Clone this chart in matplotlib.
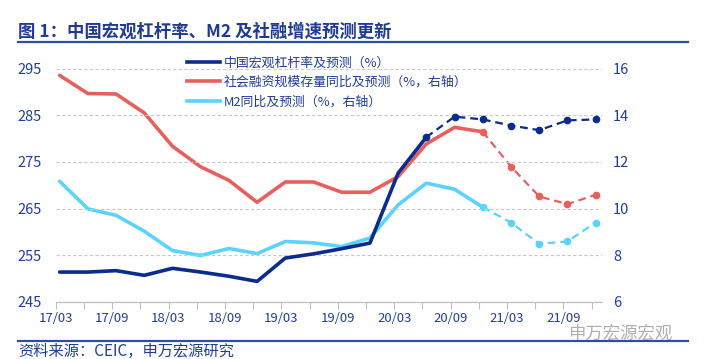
import matplotlib
matplotlib.use('Agg')
import matplotlib.pyplot as plt
from matplotlib.lines import Line2D

plt.rcParams['font.family'] = ['Noto Sans CJK SC', 'DejaVu Sans']

# quarterly data 17/03 .. 21/12
quarters = ['17/03', '17/06', '17/09', '17/12', '18/03', '18/06', '18/09', '18/12',
            '19/03', '19/06', '19/09', '19/12', '20/03', '20/06', '20/09', '20/12',
            '21/03', '21/06', '21/09', '21/12']
leverage = [251.4, 251.4, 251.7, 250.7, 252.2, 251.4, 250.5, 249.4,
            254.4, 255.3, 256.4, 257.6, 272.6, 280.3, 284.7, 284.1,
            282.8, 281.8, 283.9, 284.1]
tsf_yoy = [15.71, 14.93, 14.91, 14.10, 12.67, 11.79, 11.21, 10.27,
           11.14, 11.14, 10.70, 10.70, 11.37, 12.77, 13.48, 13.29,
           11.80, 10.52, 10.19, 10.59]
m2_yoy = [11.17, 9.99, 9.71, 9.03, 8.20, 7.99, 8.29, 8.07,
          8.59, 8.53, 8.37, 8.74, 10.16, 11.09, 10.83, 10.06,
          9.40, 8.49, 8.59, 9.40]
# index where the forecast (dashed) part starts
lev_fc = 13
tsf_fc = 15
m2_fc = 15

left_ticks = [245, 255, 265, 275, 285, 295]
right_ticks = [6, 8, 10, 12, 14, 16]

DARK = '#0A2D8C'
RED = '#E8605E'
CYAN = '#5CD3FF'
TXT = '#1F3E99'

fig = plt.figure(figsize=(7.05, 3.59), dpi=100)
ax = fig.add_axes([0.079, 0.159, 0.775, 0.650])
ax2 = ax.twinx()
ax.set_zorder(ax2.get_zorder() + 1)
ax.patch.set_visible(False)

x = list(range(len(quarters)))


def draw(a, vals, fc, color):
    a.plot(x[:fc + 1], vals[:fc + 1], color=color, lw=2.6, solid_capstyle='round')
    a.plot(x[fc:], vals[fc:], color=color, lw=1.6, ls=(0, (3.5, 2.2)),
           marker='o', ms=4.5)


draw(ax2, tsf_yoy, tsf_fc, RED)
draw(ax2, m2_yoy, m2_fc, CYAN)
draw(ax, leverage, lev_fc, DARK)

ax.set_ylim(245, 295)
ax2.set_ylim(6, 16)
ax.set_yticks(left_ticks)
ax2.set_yticks(right_ticks)
ax.set_xlim(-0.14, 19.23)
ax.grid(axis='y', color='#C8C8C8', ls=(0, (3, 2)), lw=0.8)
ax.set_axisbelow(True)

tick_pos = [i - 0.14 for i in x]
ax.set_xticks(tick_pos)
ax.set_xticklabels([q if i % 2 == 0 else '' for i, q in enumerate(quarters)])

for a in (ax, ax2):
    for s in ('top', 'left', 'right'):
        a.spines[s].set_visible(False)
    a.spines['bottom'].set_color('#BFBFBF')
    a.tick_params(axis='y', length=0, labelsize=10.5, colors=TXT)
ax.tick_params(axis='x', length=5, color='#BFBFBF', labelsize=9.5, labelcolor=TXT, pad=2)
ax.tick_params(axis='y', pad=10)
ax2.tick_params(axis='y', pad=8)

handles = [Line2D([], [], color=DARK, lw=2.6),
           Line2D([], [], color=RED, lw=2.6),
           Line2D([], [], color=CYAN, lw=2.6)]
labels = ['中国宏观杠杆率及预测（%）', '社会融资规模存量同比及预测（%，右轴）', 'M2同比及预测（%，右轴）']
leg = ax.legend(handles, labels, loc='upper left', bbox_to_anchor=(0.231, 1.075),
                frameon=False, fontsize=9.3, handlelength=2.55, handletextpad=0.3,
                labelspacing=0.5, borderaxespad=0)
for t in leg.get_texts():
    t.set_color(TXT)

# header / footer
fig.text(0.026, 0.912, '图 1：中国宏观杠杆率、M2 及社融增速预测更新', fontsize=12.5,
         fontweight='bold', color='#1F3A93', va='center')
fig.add_artist(Line2D([0.026, 0.976], [0.883, 0.883], color='#2C4FA3', lw=1.6))
fig.add_artist(Line2D([0.026, 0.976], [0.050, 0.050], color='#2C4FA3', lw=1.6))
fig.text(0.026, 0.02, '资料来源：CEIC，申万宏源研究', fontsize=11, color=TXT, va='center')
fig.text(0.806, 0.072, '申万宏源宏观', fontsize=12.5, color='#9A9A9A', va='center',
         style='italic', alpha=0.8)

plt.savefig('out.png', dpi=100)
plt.close()
